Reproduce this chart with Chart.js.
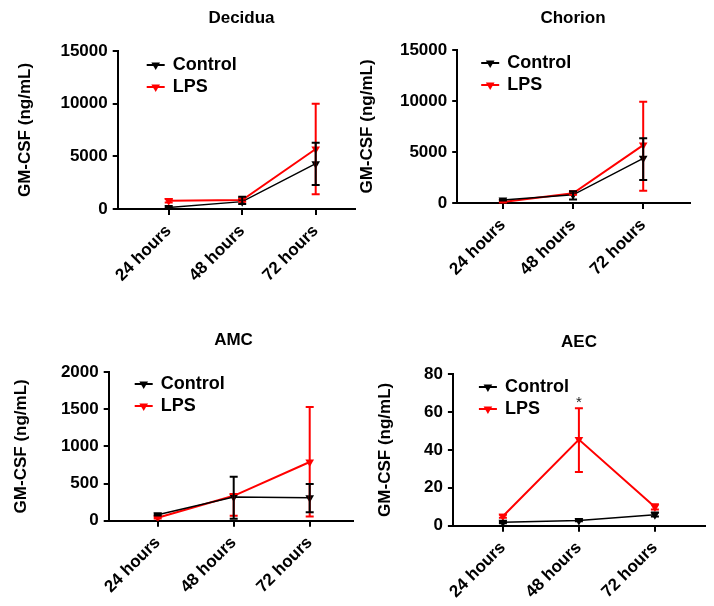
<!DOCTYPE html>
<html><head><meta charset="utf-8">
<script src="https://cdn.jsdelivr.net/npm/chart.js@4.4.1/dist/chart.umd.min.js"></script>
<style>
html,body{margin:0;padding:0;background:#fff;}
#wrap{position:relative;width:714px;height:606px;overflow:hidden;background:#fff;}
canvas{position:absolute;}
</style></head><body><div id="wrap"></div>
<script>
// ---------- DATA ----------
const categories = ['24 hours', '48 hours', '72 hours'];
const seriesNames = ['Control', 'LPS'];
const panelTitles = ['Decidua', 'Chorion', 'AMC', 'AEC'];
const yAxisTitle = 'GM-CSF (ng/mL)';
const yMaxes = [15000, 15000, 2000, 80];
const yStepSizes = [5000, 5000, 500, 20];

// Decidua
const deciduaControl   = [150, 700, 4300];
const deciduaControlHi = [200, 1170, 6290];
const deciduaControlLo = [100, 480, 2280];
const deciduaLPS       = [780, 850, 5700];
const deciduaLPSHi     = [950, 1000, 10000];
const deciduaLPSLo     = [620, 700, 1400];

// Chorion
const chorionControl   = [300, 800, 4380];
const chorionControlHi = [350, 1150, 6340];
const chorionControlLo = [250, 350, 2250];
const chorionLPS       = [100, 950, 5680];
const chorionLPSHi     = [150, 1150, 9930];
const chorionLPSLo     = [50, 800, 1200];

// AMC
const amcControl   = [80, 320, 310];
const amcControlHi = [90, 590, 495];
const amcControlLo = [70, 25, 115];
const amcLPS       = [40, 335, 790];
const amcLPSHi     = [50, 360, 1530];
const amcLPSLo     = [30, 65, 55];

// AEC
const aecControl   = [1.8, 2.8, 5.8];
const aecControlHi = [2.3, 3.3, 7.0];
const aecControlLo = [1.3, 2.3, 4.8];
const aecLPS       = [5.0, 45.4, 9.9];
const aecLPSHi     = [5.8, 62, 11.3];
const aecLPSLo     = [4.2, 28.3, 8.5];
const aecLPSSignificance = ['', '*', ''];

const panelData = [
  {c: deciduaControl, cHi: deciduaControlHi, cLo: deciduaControlLo, l: deciduaLPS, lHi: deciduaLPSHi, lLo: deciduaLPSLo, sig: ['', '', '']},
  {c: chorionControl, cHi: chorionControlHi, cLo: chorionControlLo, l: chorionLPS, lHi: chorionLPSHi, lLo: chorionLPSLo, sig: ['', '', '']},
  {c: amcControl, cHi: amcControlHi, cLo: amcControlLo, l: amcLPS, lHi: amcLPSHi, lLo: amcLPSLo, sig: ['', '', '']},
  {c: aecControl, cHi: aecControlHi, cLo: aecControlLo, l: aecLPS, lHi: aecLPSHi, lLo: aecLPSLo, sig: aecLPSSignificance}
];

// ---------- LAYOUT (page pixels) ----------
const layouts = [
  {top: 0,   L: 118,   T: 51,  R: 355, B: 209,   cat1: 169,   cat3: 316,   titleX: 242,   titleY: 18.3, yTitleX: 25.5, lgDx: 29, lgDy: 14},
  {top: 0,   L: 457,   T: 50,  R: 690, B: 203,   cat1: 502.7, cat3: 643,   titleX: 573,   titleY: 18,   yTitleX: 367,  lgDx: 24, lgDy: 13},
  {top: 303, L: 109,   T: 372, R: 353, B: 520.7, cat1: 158,   cat3: 310,   titleX: 234,   titleY: 340,  yTitleX: 21.5, lgDx: 26, lgDy: 12},
  {top: 303, L: 452.7, T: 374, R: 705, B: 525.7, cat1: 502.7, cat3: 654.7, titleX: 578.7, titleY: 342,  yTitleX: 385,  lgDx: 26, lgDy: 13}
];

const FONT = '"Liberation Sans", Arial, Helvetica, sans-serif';
Chart.defaults.font.family = FONT;
Chart.defaults.color = '#000';

function triangleDown(ctx, x, y, r, color) {
  const h = r * 1.5, half = r * Math.sqrt(3) / 2;
  ctx.beginPath();
  ctx.moveTo(x - half, y - h / 3);
  ctx.lineTo(x + half, y - h / 3);
  ctx.lineTo(x, y + h * 2 / 3);
  ctx.closePath();
  ctx.fillStyle = color;
  ctx.fill();
}

const overlay = {
  id: 'overlay',
  afterDatasetsDraw(chart) {
    const ctx = chart.ctx, xs = chart.scales.x, ys = chart.scales.y;
    const dss = chart.data.datasets;
    for (let d = dss.length - 1; d >= 0; d--) {
      const ds = dss[d];
      ctx.save();
      ctx.strokeStyle = ds.borderColor;
      ctx.lineWidth = 2;
      ds.data.forEach((p, i) => {
        const x = xs.getPixelForValue(p.x);
        const yh = ys.getPixelForValue(ds.errHi[i]);
        const yl = ys.getPixelForValue(ds.errLo[i]);
        ctx.beginPath();
        ctx.moveTo(x, yh); ctx.lineTo(x, yl);
        ctx.moveTo(x - 4, yh); ctx.lineTo(x + 4, yh);
        ctx.moveTo(x - 4, yl); ctx.lineTo(x + 4, yl);
        ctx.stroke();
        if (ds.sig && ds.sig[i]) {
          ctx.fillStyle = '#222';
          ctx.font = '15px ' + FONT;
          ctx.textAlign = 'center';
          ctx.textBaseline = 'alphabetic';
          ctx.fillText(ds.sig[i], x, yh - 1);
        }
      });
      ctx.restore();
    }
  },
  afterDraw(chart, args, opts) {
    const ctx = chart.ctx, a = chart.chartArea;
    ctx.save();
    chart.data.datasets.forEach((ds, j) => {
      const x0 = a.left + opts.dx, y = a.top + opts.dy + j * 22;
      ctx.strokeStyle = ds.borderColor;
      ctx.lineWidth = 2;
      ctx.beginPath(); ctx.moveTo(x0, y); ctx.lineTo(x0 + 18, y); ctx.stroke();
      triangleDown(ctx, x0 + 9, y, 5, ds.borderColor);
      ctx.fillStyle = '#000';
      ctx.font = 'bold 18px ' + FONT;
      ctx.textAlign = 'left';
      ctx.textBaseline = 'middle';
      ctx.fillText(ds.label, x0 + 26, y);
    });
    ctx.restore();
  }
};

const wrap = document.getElementById('wrap');
layouts.forEach((p, k) => {
  const pd = panelData[k];
  const cl = p.yTitleX - 10.2;
  const W = Math.round(2 * (p.titleX - cl));
  const H = 303;
  const canvas = document.createElement('canvas');
  canvas.style.left = cl + 'px';
  canvas.style.top = p.top + 'px';
  canvas.style.width = W + 'px';
  canvas.style.height = H + 'px';
  canvas.width = W; canvas.height = H;
  wrap.appendChild(canvas);

  const unit = (p.cat3 - p.cat1) / 2;
  const xMin = 1 - (p.cat1 - p.L) / unit;
  const xMax = 3 + (p.R - p.cat3) / unit;
  const tPadTop = p.titleY - p.top - 10.2;
  const tPadBottom = p.T - p.top - tPadTop - 20.4;
  const rightSpace = W - (p.R - cl);

  const mk = (arr) => arr.map((v, i) => ({x: i + 1, y: v}));
  const tickFont = {size: 17, weight: 'bold', family: FONT};

  new Chart(canvas, {
    type: 'line',
    data: {
      datasets: [
        {label: seriesNames[0], data: mk(pd.c), errHi: pd.cHi, errLo: pd.cLo,
         borderColor: '#000000', backgroundColor: '#000000', borderWidth: 1.5, tension: 0,
         pointStyle: 'triangle', rotation: 180, pointRadius: 5, pointBorderWidth: 0},
        {label: seriesNames[1], data: mk(pd.l), errHi: pd.lHi, errLo: pd.lLo, sig: pd.sig,
         borderColor: '#ff0000', backgroundColor: '#ff0000', borderWidth: 2, tension: 0,
         pointStyle: 'triangle', rotation: 180, pointRadius: 5, pointBorderWidth: 0}
      ]
    },
    options: {
      responsive: false, animation: false, devicePixelRatio: 1,
      layout: {padding: 0},
      plugins: {
        legend: {display: false}, tooltip: {enabled: false},
        title: {display: true, text: panelTitles[k], color: '#000', fullSize: true,
                font: {size: 17, weight: 'bold', family: FONT},
                padding: {top: tPadTop, bottom: tPadBottom}},
        overlay: {dx: p.lgDx, dy: p.lgDy}
      },
      scales: {
        x: {
          type: 'linear', min: xMin, max: xMax,
          afterBuildTicks: s => { s.ticks = categories.map((c, i) => ({value: i + 1})); },
          afterFit: s => { s.height = p.top + H - p.B; },
          ticks: {callback: (v, i) => categories[i], minRotation: 45, maxRotation: 45,
                  autoSkip: false, color: '#000', font: tickFont, padding: 6},
          grid: {display: true, drawOnChartArea: false, drawTicks: true, tickLength: 6, color: '#000', lineWidth: 2},
          border: {display: true, color: '#000', width: 2}
        },
        y: {
          min: 0, max: yMaxes[k],
          afterFit: s => { s.width = p.L - cl; },
          ticks: {stepSize: yStepSizes[k], callback: v => String(v), color: '#000', font: tickFont, padding: 5},
          grid: {display: true, drawOnChartArea: false, drawTicks: true, tickLength: 5, color: '#000', lineWidth: 2},
          border: {display: true, color: '#000', width: 2},
          title: {display: true, text: yAxisTitle, color: '#000',
                  font: {size: 17, weight: 'bold', family: FONT}, padding: 0}
        },
        spacer: {
          type: 'linear', position: 'right', display: true,
          afterFit: s => { s.width = rightSpace; },
          ticks: {display: false}, grid: {display: false}, border: {display: false}
        }
      }
    },
    plugins: [overlay]
  });
});
</script></body></html>
